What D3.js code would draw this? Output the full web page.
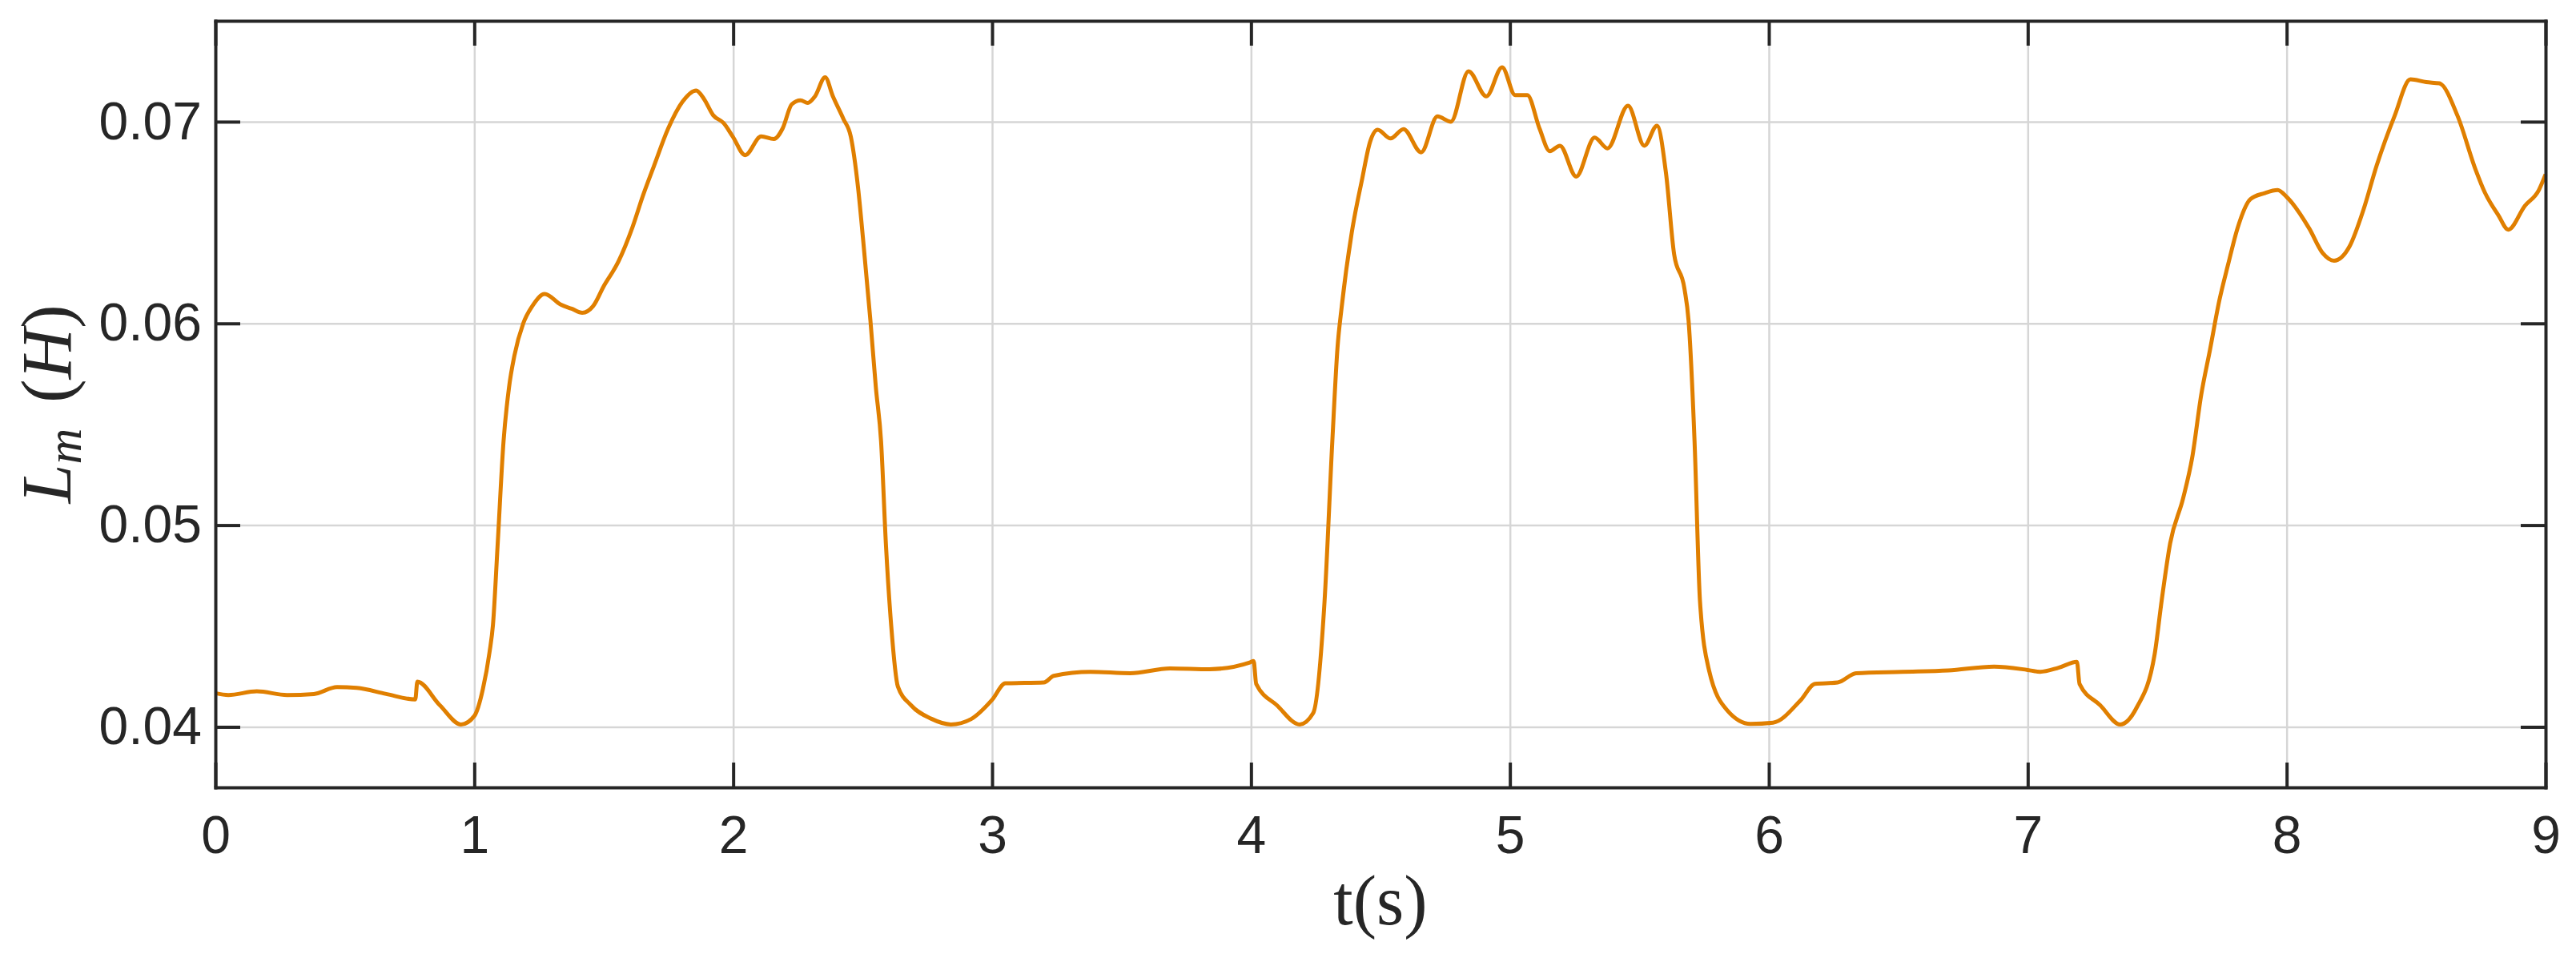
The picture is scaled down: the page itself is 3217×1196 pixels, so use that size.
<!DOCTYPE html>
<html>
<head>
<meta charset="utf-8">
<script src="https://cdn.jsdelivr.net/npm/d3@7"></script>
<style>
    body { margin: 0; background: #ffffff; }
    svg { display: block; }
    .tick text { font-family: "Liberation Sans", Arial, sans-serif; font-size: 66px; fill: #262626; }
    .grid line { stroke: #d6d6d6; stroke-width: 2.5; }
    .grid path { display: none; }
    .frame path, .frame line { stroke: #262626; stroke-width: 4; }
    .axis-label { font-family: "Liberation Serif", "DejaVu Serif", serif; fill: #262626; }
</style>
</head>
<body>
<svg id="chart" width="3217" height="1196"></svg>
<script>
// Time (s) and magnetizing inductance (H)
const TIME = [
    0, 0.05, 0.16, 0.277, 0.38, 0.47, 0.546, 0.66, 0.772, 0.78, 0.867, 0.949, 1.0, 1.033, 1.059, 1.072, 1.09,
    1.113, 1.134, 1.155, 1.189, 1.224, 1.272, 1.334, 1.376, 1.417, 1.459, 1.5, 1.556, 1.611, 1.652, 1.694,
    1.749, 1.804, 1.857, 1.887, 1.922, 1.963, 1.998, 2.046, 2.108, 2.157, 2.191, 2.226, 2.26, 2.288, 2.316,
    2.355, 2.385, 2.426, 2.454, 2.482, 2.502, 2.53, 2.551, 2.571, 2.59, 2.61, 2.636, 2.687, 2.764, 2.841,
    2.918, 3.0, 3.051, 3.2, 3.238, 3.38, 3.533, 3.687, 3.84, 3.995, 4.01, 4.02, 4.1, 4.188, 4.24, 4.284,
    4.314, 4.334, 4.35, 4.389, 4.429, 4.46, 4.489, 4.539, 4.589, 4.657, 4.72, 4.772, 4.84, 4.909, 4.97,
    5.02, 5.067, 5.114, 5.154, 5.193, 5.256, 5.327, 5.377, 5.456, 5.519, 5.568, 5.603, 5.634, 5.674, 5.69,
    5.713, 5.734, 5.769, 5.84, 5.929, 6.016, 6.124, 6.178, 6.266, 6.337, 6.515, 6.693, 6.87, 7.0, 7.048,
    7.119, 7.19, 7.2, 7.28, 7.357, 7.42, 7.49, 7.517, 7.55, 7.6, 7.635, 7.67, 7.704, 7.74, 7.774, 7.81,
    7.86, 7.913, 7.965, 8.0, 8.087, 8.139, 8.183, 8.243, 8.296, 8.348, 8.417, 8.478, 8.539, 8.59, 8.66,
    8.73, 8.765, 8.817, 8.856, 8.92, 8.974, 9.0
];
const INDUCTANCE = [
    0.04167, 0.04158, 0.04176, 0.04158, 0.04163, 0.04197, 0.04193, 0.04163, 0.04136, 0.04224, 0.04107, 0.04012, 0.04054, 0.04187, 0.04372, 0.04505, 0.049,
    0.05417, 0.05682, 0.05841, 0.06, 0.06086, 0.06146, 0.06093, 0.06073, 0.06053, 0.06086, 0.06185, 0.06305, 0.06477, 0.06636, 0.06781,
    0.06967, 0.07099, 0.07155, 0.07113, 0.07033, 0.06993, 0.06927, 0.06834, 0.06927, 0.06914, 0.06967, 0.07086, 0.07106, 0.07093, 0.07126,
    0.0722, 0.07126, 0.07013, 0.06927, 0.06675, 0.06411, 0.06013, 0.05682, 0.05417, 0.049, 0.04505, 0.042, 0.04107, 0.04041, 0.04012,
    0.04038, 0.04134, 0.04216, 0.0422, 0.04253, 0.04273, 0.04266, 0.0429, 0.04286, 0.04319, 0.04326, 0.04213, 0.04107, 0.04012, 0.04068, 0.04624,
    0.05417, 0.0588, 0.0608, 0.0645, 0.06715, 0.06901, 0.0696, 0.06917, 0.06963, 0.06848, 0.07026, 0.07, 0.0725, 0.07126, 0.0727,
    0.07132, 0.07132, 0.06967, 0.06854, 0.06881, 0.06728, 0.06921, 0.06868, 0.07079, 0.06881, 0.0698, 0.06742, 0.06344, 0.06172, 0.06013,
    0.05417, 0.04624, 0.0428, 0.04081, 0.04015, 0.04021, 0.04134, 0.04213, 0.0422, 0.04266, 0.04273, 0.0428, 0.04299, 0.04282, 0.04273,
    0.04293, 0.04322, 0.04213, 0.04107, 0.04012, 0.04094, 0.04359, 0.04624, 0.0491, 0.05133, 0.05334, 0.05646, 0.0587, 0.06114, 0.06293, 0.06471,
    0.06616, 0.06645, 0.06661, 0.06627, 0.06471, 0.06349, 0.06311, 0.06382, 0.06561, 0.06784, 0.07029, 0.0721, 0.07196, 0.0719, 0.07029,
    0.06761, 0.0665, 0.06538, 0.06465, 0.06583, 0.06661, 0.06739
];
const X_TICKS = [0, 1, 2, 3, 4, 5, 6, 7, 8, 9];
const Y_TICKS = [0.04, 0.05, 0.06, 0.07];
const X_DOMAIN = [0, 9];
const Y_DOMAIN = [0.037, 0.075];

const svg = d3.select("#chart");
const margin = { left: 269, right: 38, top: 26, bottom: 213 };
const width = +svg.attr("width");
const height = +svg.attr("height");
const innerRight = width - margin.right;
const innerBottom = height - margin.bottom;

const x = d3.scaleLinear().domain(X_DOMAIN).range([margin.left, innerRight]);
const y = d3.scaleLinear().domain(Y_DOMAIN).range([innerBottom, margin.top]);

// Grid
svg.append("g")
    .classed("grid", true)
    .attr("transform", "translate(0 " + innerBottom + ")")
    .call(d3.axisBottom(x).tickValues(X_TICKS).tickSize(-(innerBottom - margin.top)).tickFormat(""));

svg.append("g")
    .classed("grid", true)
    .attr("transform", "translate(" + margin.left + " 0)")
    .call(d3.axisLeft(y).tickValues(Y_TICKS).tickSize(-(innerRight - margin.left)).tickFormat(""));

// Curve
const points = TIME.map((t, i) => [t, INDUCTANCE[i]]);
const line = d3.line()
    .x((d) => x(d[0]))
    .y((d) => y(d[1]))
    .curve(d3.curveMonotoneX);

svg.append("path")
    .datum(points)
    .attr("fill", "none")
    .attr("stroke", "#e07f00")
    .attr("stroke-width", 5)
    .attr("stroke-linejoin", "round")
    .attr("d", line);

// Box with inward ticks
const tickLen = 31;

svg.append("g")
    .classed("frame", true)
    .attr("transform", "translate(0 " + innerBottom + ")")
    .call(d3.axisBottom(x).tickValues(X_TICKS).tickSizeInner(-tickLen).tickSizeOuter(0).tickPadding(35));

svg.append("g")
    .classed("frame", true)
    .attr("transform", "translate(" + margin.left + " 0)")
    .call(d3.axisLeft(y).tickValues(Y_TICKS).tickSizeInner(-tickLen).tickSizeOuter(0).tickPadding(17)
        .tickFormat(d3.format(".2f")));

svg.append("g")
    .classed("frame", true)
    .attr("transform", "translate(0 " + margin.top + ")")
    .call(d3.axisTop(x).tickValues(X_TICKS).tickSizeInner(-tickLen).tickSizeOuter(0).tickFormat(""));

svg.append("g")
    .classed("frame", true)
    .attr("transform", "translate(" + innerRight + " 0)")
    .call(d3.axisRight(y).tickValues(Y_TICKS).tickSizeInner(-tickLen).tickSizeOuter(0).tickFormat(""));

svg.selectAll(".frame .domain").attr("stroke-linecap", "square");

// Axis labels
svg.append("text")
    .classed("axis-label", true)
    .attr("x", (margin.left + innerRight) / 2)
    .attr("y", 1154)
    .attr("text-anchor", "middle")
    .style("font-size", "88px")
    .text("t(s)");

const yLabel = svg.append("text")
    .classed("axis-label", true)
    .attr("transform", "translate(88 " + (margin.top + innerBottom) / 2 + ") rotate(-90)")
    .attr("text-anchor", "middle")
    .style("font-size", "88px");

yLabel.append("tspan").style("font-style", "italic").text("L");
yLabel.append("tspan").style("font-style", "italic").style("font-size", "62px").attr("dy", 13).text("m");
yLabel.append("tspan").attr("dy", -13).attr("dx", 32).text("(");
yLabel.append("tspan").style("font-style", "italic").text("H");
yLabel.append("tspan").text(")");
</script>
</body>
</html>
